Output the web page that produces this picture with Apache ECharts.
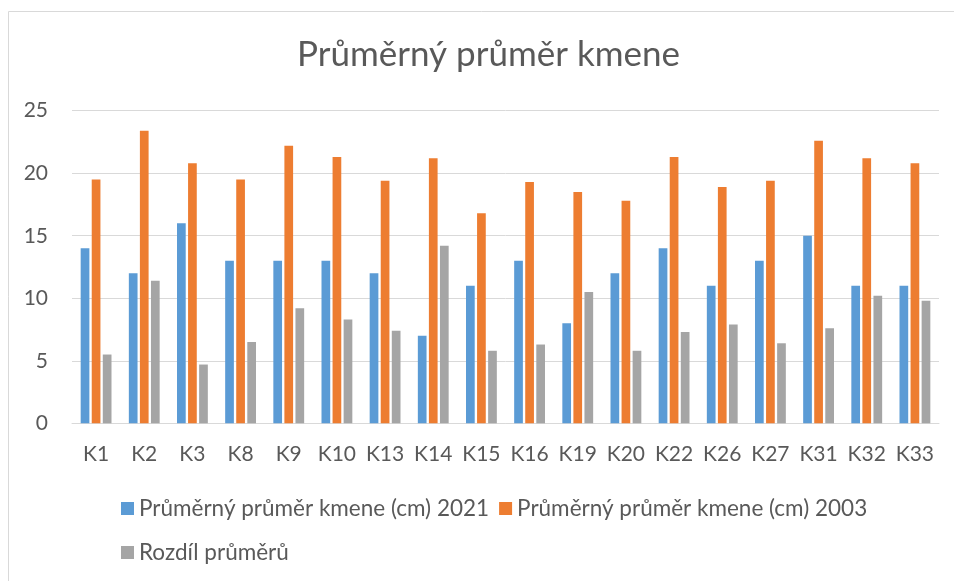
<!DOCTYPE html>
<html>
<head>
<meta charset="utf-8">
<style>
html,body{margin:0;padding:0;background:#fff;}
#chart{width:954px;height:581px;}
</style>
<script src="https://cdn.jsdelivr.net/npm/echarts@6/dist/echarts.min.js"></script>
</head>
<body>
<div id="chart"></div>
<script>
const categories = ['K1','K2','K3','K8','K9','K10','K13','K14','K15','K16','K19','K20','K22','K26','K27','K31','K32','K33'];
const series2021 = [14,12,16,13,13,13,12,7,11,13,8,12,14,11,13,15,11,11];
const series2003 = [19.5,23.4,20.8,19.5,22.2,21.3,19.4,21.2,16.8,19.3,18.5,17.8,21.3,18.9,19.4,22.6,21.2,20.8];
const seriesDiff = [5.5,11.4,4.7,6.5,9.2,8.3,7.4,14.2,5.8,6.3,10.5,5.8,7.3,7.9,6.4,7.6,10.2,9.8];
const yTicks = [0,5,10,15,20,25];
const names = ['Průměrný průměr kmene (cm) 2021','Průměrný průměr kmene (cm) 2003','Rozdíl průměrů'];
const colors = ['#5B9BD5','#ED7D31','#A5A5A5'];

const FONT = 'Lato';
const TXT = '#595959';
const chart = echarts.init(document.getElementById('chart'));
chart.setOption({
  animation:false,
  textStyle:{fontFamily:FONT},
  title:{
    text:'Průměrný průměr kmene',
    left:292, top:30,
    textStyle:{fontFamily:FONT,fontSize:35,fontWeight:'normal',color:TXT,lineHeight:40}
  },
  graphic:[{type:'rect',shape:{x:8.5,y:11.5,width:950,height:575},style:{fill:null,stroke:'#D9D9D9',lineWidth:1},silent:true,z:-1}],
  legend:[
    {data:[names[0],names[1]],left:116,top:491.5,itemWidth:13,itemHeight:13,itemGap:10,icon:'rect',
     textStyle:{fontFamily:FONT,fontSize:22.5,color:TXT,lineHeight:24}},
    {data:[names[2]],left:116,top:535.5,itemWidth:13,itemHeight:13,icon:'rect',
     textStyle:{fontFamily:FONT,fontSize:22.5,color:TXT,lineHeight:24}}
  ],
  grid:{left:72,right:15,top:110.7,bottom:157.7,containLabel:false},
  xAxis:{
    type:'category',data:categories,
    axisTick:{show:false},
    axisLine:{lineStyle:{color:'#D9D9D9',width:1}},
    axisLabel:{color:TXT,fontFamily:FONT,fontSize:21,margin:20,lineHeight:22,interval:0}
  },
  yAxis:{
    type:'value',min:yTicks[0],max:yTicks[yTicks.length-1],interval:5,
    axisLine:{show:false},axisTick:{show:false},
    splitLine:{lineStyle:{color:'#D9D9D9',width:1}},
    axisLabel:{color:TXT,fontFamily:FONT,fontSize:21,margin:24}
  },
  series:[
    {name:names[0],type:'bar',data:series2021,itemStyle:{color:colors[0]},barGap:'27%',barCategoryGap:'36%'},
    {name:names[1],type:'bar',data:series2003,itemStyle:{color:colors[1]},barGap:'27%',barCategoryGap:'36%'},
    {name:names[2],type:'bar',data:seriesDiff,itemStyle:{color:colors[2]},barGap:'27%',barCategoryGap:'36%'}
  ]
});
</script>
</body>
</html>
